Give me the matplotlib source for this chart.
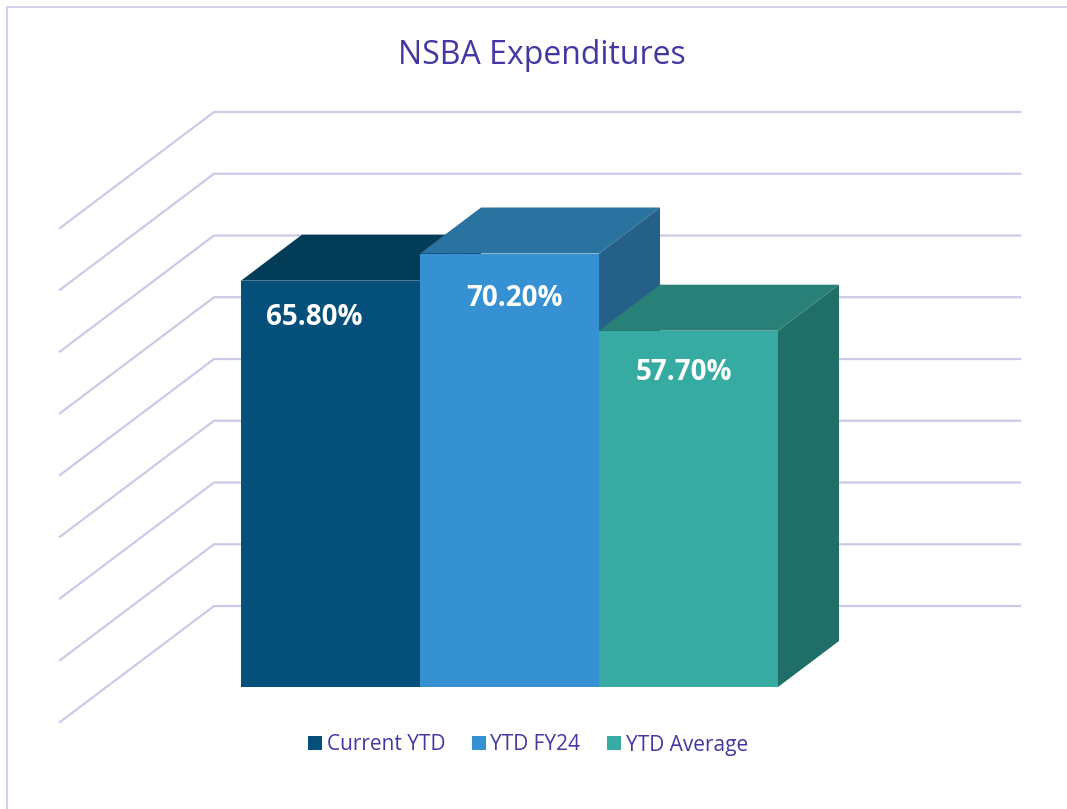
import matplotlib
matplotlib.use("Agg")
import matplotlib.pyplot as plt
from matplotlib.lines import Line2D
from matplotlib.patches import Polygon, Patch

categories = ["Current YTD", "YTD FY24", "YTD Average"]
values = [65.8, 70.2, 57.7]
grid_values = [0, 10, 20, 30, 40, 50, 60, 70, 80]

front_colors = ["#04507A", "#3591D1", "#35ABA1"]
top_colors = ["#023C57", "#2A729F", "#288079"]
side_colors = ["#023C57", "#246087", "#1F6F68"]
grid_color = "#CDC9E6"
text_color = "#4237A3"

plt.rcParams["font.family"] = ["Open Sans", "DejaVu Sans"]

W, H = 1067, 809
PX_X = 179.0   # pixels per bar
PX_Y = 6.175   # pixels per percent
X0, Y0 = 241, 687   # pixel position of the origin

fig = plt.figure(figsize=(W / 100, H / 100), dpi=100)
ax = fig.add_axes([0, 0, 1, 1])
ax.set_xlim(-X0 / PX_X, (W - X0) / PX_X)
ax.set_ylim(-(H - Y0) / PX_Y, Y0 / PX_Y)
ax.axis("off")

# chart frame
fig.add_artist(Line2D([7 / W, 7 / W, 1], [0, 1 - 7 / H, 1 - 7 / H], color=grid_color, lw=1.2))

# wall and gridlines
wall_x = [-181 / PX_X, -27 / PX_X, 779 / PX_X]
for v in grid_values:
    ys = [v - 35 / PX_Y, v + 81 / PX_Y, v + 81 / PX_Y]
    ax.plot(wall_x, ys, color=grid_color, lw=1.6, solid_joinstyle="miter", zorder=1)

# 3d bars
dx = 61 / PX_X
dy = 46 / PX_Y
label_dx = [-16 / PX_X, 5 / PX_X, -5 / PX_X]
label_dy = [-37 / PX_Y, -45 / PX_Y, -42 / PX_Y]
for i, v in enumerate(values):
    z = 2 + i
    ax.add_patch(Polygon([(i + 1, 0), (i + 1 + dx, dy), (i + 1 + dx, v + dy), (i + 1, v)],
                         facecolor=side_colors[i], edgecolor="none", zorder=z))
    ax.add_patch(Polygon([(i, v), (i + dx, v + dy), (i + 1 + dx, v + dy), (i + 1, v)],
                         facecolor=top_colors[i], edgecolor="none", zorder=z))
    ax.bar(i + 0.5, v, width=1, color=front_colors[i], zorder=z)
    ax.text(i + 0.5 + label_dx[i], v + label_dy[i], f"{v:.2f}%", color="white", fontsize=20,
            fontweight="bold", ha="center", va="center", zorder=10)

fig.text(542 / W, 1 - 55 / H, "NSBA Expenditures", color=text_color, fontsize=23, ha="center", va="center")

handles = [Patch(facecolor=c, edgecolor="none", label=n) for c, n in zip(front_colors, categories)]
fig.legend(handles=handles, loc="center", bbox_to_anchor=(528 / W, 1 - 745 / H), ncol=3, frameon=False,
           fontsize=15, labelcolor=text_color, handlelength=0.68, handleheight=0.68,
           handletextpad=0.22, columnspacing=1.27, borderpad=0)

fig.savefig("out.png", dpi=100)
